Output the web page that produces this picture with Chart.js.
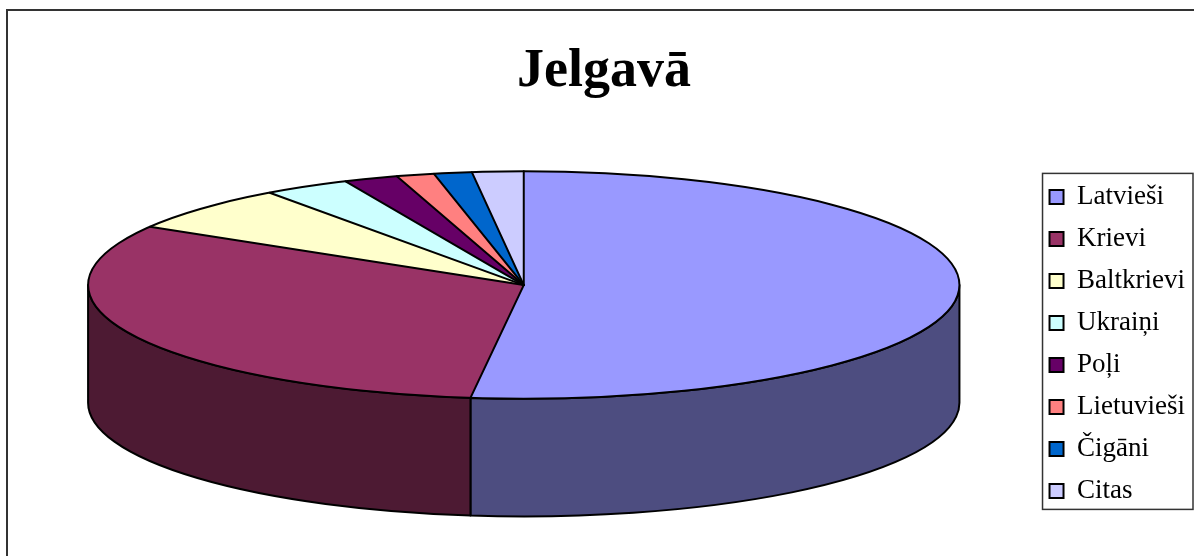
<!DOCTYPE html>
<html lang="lv">
<head>
<meta charset="utf-8">
<title>Jelgavā</title>
<script src="https://cdn.jsdelivr.net/npm/chart.js@4.4.0/dist/chart.umd.min.js"></script>
<style>
  html, body { margin: 0; padding: 0; background: #fff; }
  #chart { display: block; }
</style>
</head>
<body>
<canvas id="chart" width="1194" height="556"></canvas>
<script>
const titleText = 'Jelgavā';
const categories = ['Latvieši', 'Krievi', 'Baltkrievi', 'Ukraiņi', 'Poļi', 'Lietuvieši', 'Čigāni', 'Citas'];
const shares = [51.9, 31.6, 6.5, 3.2, 2.0, 1.4, 1.4, 1.9];
const colors = ['#9999FF', '#993366', '#FFFFCC', '#CCFFFF', '#660066', '#FF8080', '#0066CC', '#CCCCFF'];

// shape of the 3D pie, relative to the chart area / horizontal radius
const RX_OF_HALF_WIDTH = 0.853;
const TILT = 0.261;   // ry / rx
const DEPTH = 0.27;   // wall height / rx

const serif = "'Liberation Serif', 'Times New Roman', serif";

// side walls are the top colour at half brightness
function darker(hex) {
    const n = parseInt(hex.slice(1), 16);
    const r = Math.round((n >> 16) / 2), g = Math.round(((n >> 8) & 255) / 2), b = Math.round((n & 255) / 2);
    return `rgb(${r},${g},${b})`;
}

function pieGeometry(chart) {
    const arcs = chart.getDatasetMeta(0).data;
    const area = chart.chartArea;
    const rx = area.width / 2 * RX_OF_HALF_WIDTH;
    const ry = rx * TILT;
    const depth = rx * DEPTH;
    // whole body (top face + wall) centred in the chart area
    return { arcs, rx, ry, depth, cx: arcs[0].x, cy: arcs[0].y - depth / 2, R: arcs[0].outerRadius };
}

const pie3d = {
    id: 'pie3d',
    beforeDraw(chart) {
        const ctx = chart.ctx;
        ctx.save();
        ctx.strokeStyle = '#333';
        ctx.lineWidth = 2;
        ctx.strokeRect(7, 10, chart.width + 10, chart.height + 10);
        ctx.restore();
    },
    beforeDatasetsDraw(chart) {
        const ctx = chart.ctx;
        const g = pieGeometry(chart);
        ctx.save();
        ctx.lineWidth = 2;
        ctx.strokeStyle = '#000';
        ctx.lineJoin = 'round';
        g.arcs.forEach((arc, i) => {
            const a1 = Math.max(arc.startAngle, 0);
            const a2 = Math.min(arc.endAngle, Math.PI);
            if (a1 >= a2) return;
            ctx.beginPath();
            ctx.ellipse(g.cx, g.cy, g.rx, g.ry, 0, a1, a2, false);
            ctx.ellipse(g.cx, g.cy + g.depth, g.rx, g.ry, 0, a2, a1, true);
            ctx.closePath();
            ctx.fillStyle = darker(colors[i]);
            ctx.fill();
            ctx.stroke();
        });
        ctx.restore();

        // squash the library's round pie into the tilted top face
        ctx.save();
        ctx.translate(g.cx, g.cy);
        ctx.scale(g.rx / g.R, g.ry / g.R);
        ctx.translate(-g.arcs[0].x, -g.arcs[0].y);
    },
    afterDatasetsDraw(chart) {
        const ctx = chart.ctx;
        ctx.restore();
        const g = pieGeometry(chart);
        ctx.save();
        ctx.lineWidth = 2;
        ctx.strokeStyle = '#000';
        ctx.lineCap = 'round';
        ctx.beginPath();
        ctx.ellipse(g.cx, g.cy, g.rx, g.ry, 0, 0, Math.PI * 2);
        ctx.stroke();
        g.arcs.forEach(arc => {
            ctx.beginPath();
            ctx.moveTo(g.cx, g.cy);
            ctx.lineTo(g.cx + g.rx * Math.cos(arc.startAngle), g.cy + g.ry * Math.sin(arc.startAngle));
            ctx.stroke();
        });
        ctx.restore();
    },
    afterDraw(chart) {
        // frame round the legend
        const legend = chart.legend;
        const boxes = legend.legendHitBoxes;
        const first = boxes[0], last = boxes[boxes.length - 1];
        const ctx = chart.ctx;
        ctx.save();
        ctx.strokeStyle = '#333';
        ctx.lineWidth = 1.5;
        const left = first.left - 7;
        const top = first.top - 10;
        const right = Math.min(legend.right, chart.width) - 1;
        const bottom = last.top + last.height + 5;
        ctx.strokeRect(left, top, right - left, bottom - top);
        ctx.restore();
    }
};

new Chart(document.getElementById('chart'), {
    type: 'pie',
    data: {
        labels: categories,
        datasets: [{
            data: shares,
            backgroundColor: colors,
            borderWidth: 0,
            clip: false
        }]
    },
    options: {
        responsive: false,
        animation: false,
        events: [],
        layout: { padding: { top: 10, left: 13, right: -1, bottom: 0 } },
        plugins: {
            title: {
                display: true,
                text: titleText,
                color: '#000',
                font: { family: serif, size: 54, weight: 'bold' },
                padding: { top: 30, bottom: 27 }
            },
            legend: {
                position: 'right',
                fullSize: false,
                labels: {
                    color: '#000',
                    font: { family: serif, size: 27 },
                    boxWidth: 14,
                    boxHeight: 14,
                    padding: 15,
                    generateLabels(chart) {
                        const items = Chart.overrides.doughnut.plugins.legend.labels.generateLabels(chart);
                        items.forEach(it => { it.strokeStyle = '#000'; it.lineWidth = 2; });
                        return items;
                    }
                }
            },
            tooltip: { enabled: false }
        }
    },
    plugins: [pie3d]
});
</script>
</body>
</html>
